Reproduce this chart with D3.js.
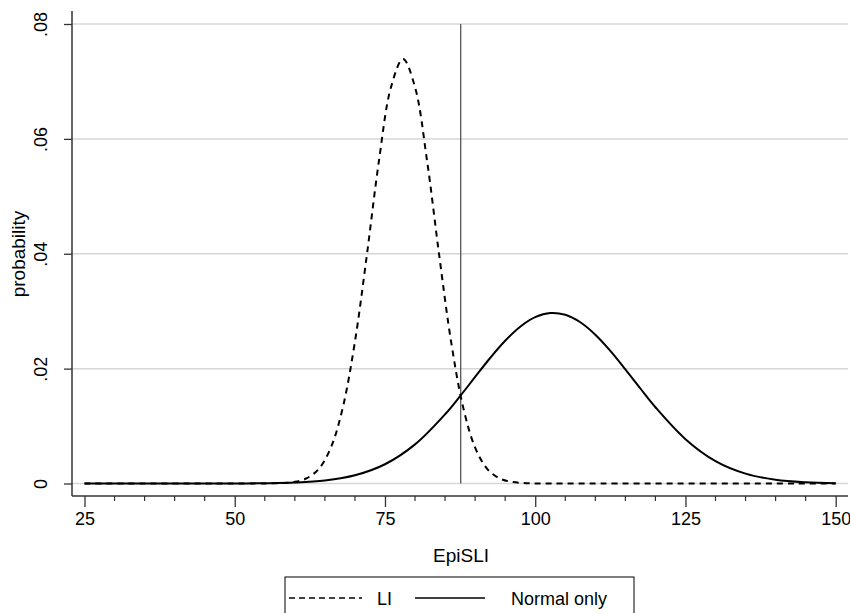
<!DOCTYPE html>
<html>
<head>
<meta charset="utf-8">
<script src="https://cdn.jsdelivr.net/npm/d3@7"></script>
<style>
  body { margin: 0; background: #fff; }
  text { font-family: "Liberation Sans", Arial, sans-serif; fill: #000; }
</style>
</head>
<body>
<script>
// values
const liX = [25, 56, 58, 60, 62, 64, 66, 68, 70, 72, 74, 76, 78, 80, 82, 84, 86, 88, 90, 92, 94, 96, 98, 100, 104, 150];
const liY = [0, 0.00002, 0.00008, 0.00029, 0.00092, 0.00256, 0.00626, 0.0133, 0.0247, 0.0399, 0.0562, 0.069, 0.0739,
             0.069, 0.0562, 0.0399, 0.0247, 0.0133, 0.00626, 0.00256, 0.00092, 0.00029, 0.00008, 0.00002, 0, 0];

const normX = [25, 35, 40, 45, 50, 55, 60, 65, 70, 75, 80, 85, 87.5, 90, 92.5, 95, 97.5, 100, 102.5, 105, 107.5,
               110, 112.5, 115, 117.5, 120, 125, 130, 135, 140, 145, 150];
const normY = [0, 0, 0.0000005, 0.0000025, 0.000012, 0.000049, 0.000172, 0.000533, 0.00143, 0.00335, 0.00681,
               0.01205, 0.01521, 0.01855, 0.02185, 0.02485, 0.0273, 0.02896, 0.02968, 0.02937, 0.02807,
               0.02591, 0.0231, 0.01989, 0.01654, 0.01328, 0.00772, 0.0039, 0.00172, 0.00066, 0.00022, 0.00006];

const cutoff = 87.6;
const xTicks = [25, 50, 75, 100, 125, 150];
const xMinor = [30, 35, 40, 45, 55, 60, 65, 70, 80, 85, 90, 95, 105, 110, 115, 120, 130, 135, 140, 145];
const yTicks = [0, 0.02, 0.04, 0.06, 0.08];
const yLabels = ["0", ".02", ".04", ".06", ".08"];

const width = 850, height = 613;
const svg = d3.select("body").append("svg").attr("width", width).attr("height", height);

const x = d3.scaleLinear().domain([25, 150]).range([84.5, 835.7]);
const y = d3.scaleLinear().domain([0, 0.08]).range([483.5, 24]);
const plotL = 72, plotR = 848, axisY = 496;
const font = "Liberation Sans, Arial, sans-serif";

// grid
svg.selectAll(".grid").data(yTicks).enter().append("line")
    .attr("x1", plotL).attr("x2", plotR)
    .attr("y1", d => y(d)).attr("y2", d => y(d))
    .attr("stroke", "#d6d6d6").attr("stroke-width", 1.5);

// y axis
const yAxis = svg.append("g").attr("transform", "translate(" + plotL + ",0)")
    .call(d3.axisLeft(y).tickValues(yTicks).tickSize(8).tickFormat((d, i) => yLabels[i]));
yAxis.select(".domain").attr("d", "M0,11V" + axisY).attr("stroke", "#333").attr("stroke-width", 1.5);
yAxis.selectAll(".tick line").attr("stroke", "#333").attr("stroke-width", 1.3);
yAxis.selectAll(".tick text")
    .attr("transform", "rotate(-90)").attr("x", 0).attr("y", -25).attr("dy", 0)
    .attr("text-anchor", "middle").style("font-size", "18px").style("font-family", font);

// x axis
const xAxis = svg.append("g").attr("transform", "translate(0," + axisY + ")")
    .call(d3.axisBottom(x).tickValues(xTicks).tickSize(11).tickFormat(d3.format("d")));
xAxis.select(".domain").attr("d", "M" + plotL + ",0H" + plotR).attr("stroke", "#333").attr("stroke-width", 1.5);
xAxis.selectAll(".tick line").attr("stroke", "#333").attr("stroke-width", 1.3);
xAxis.selectAll(".tick text").attr("y", 16).attr("dy", "0.71em")
    .style("font-size", "18px").style("font-family", font);
xAxis.selectAll(".minor").data(xMinor).enter().append("line")
    .attr("x1", d => x(d)).attr("x2", d => x(d)).attr("y1", 0).attr("y2", 5)
    .attr("stroke", "#333").attr("stroke-width", 1.2);

// cutoff line
svg.append("line")
    .attr("x1", x(cutoff)).attr("x2", x(cutoff))
    .attr("y1", y(0.08)).attr("y2", y(0))
    .attr("stroke", "#555").attr("stroke-width", 1.3);

const line = d3.line().curve(d3.curveCatmullRom.alpha(0.5));

svg.append("path")
    .attr("d", line(normX.map((v, i) => [x(v), y(normY[i])])))
    .attr("fill", "none").attr("stroke", "#000").attr("stroke-width", 2);

svg.append("path")
    .attr("d", line(liX.map((v, i) => [x(v), y(liY[i])])))
    .attr("fill", "none").attr("stroke", "#000").attr("stroke-width", 2)
    .attr("stroke-dasharray", "6,5");

// axis titles
svg.append("text").attr("x", 461).attr("y", 562).attr("text-anchor", "middle")
    .style("font-size", "19px").text("EpiSLI");
svg.append("text").attr("transform", "translate(25,254) rotate(-90)").attr("text-anchor", "middle")
    .style("font-size", "19px").text("probability");

// legend
const lg = svg.append("g");
lg.append("rect").attr("x", 285).attr("y", 577).attr("width", 349).attr("height", 40)
    .attr("fill", "#fff").attr("stroke", "#000").attr("stroke-width", 1);
lg.append("line").attr("x1", 289).attr("x2", 362).attr("y1", 598).attr("y2", 598)
    .attr("stroke", "#000").attr("stroke-width", 1.5).attr("stroke-dasharray", "6,4");
lg.append("text").attr("x", 377).attr("y", 605).style("font-size", "18px").text("LI");
lg.append("line").attr("x1", 415).attr("x2", 485).attr("y1", 598).attr("y2", 598)
    .attr("stroke", "#000").attr("stroke-width", 1.5);
lg.append("text").attr("x", 511).attr("y", 605).style("font-size", "18px").text("Normal only");
</script>
</body>
</html>
